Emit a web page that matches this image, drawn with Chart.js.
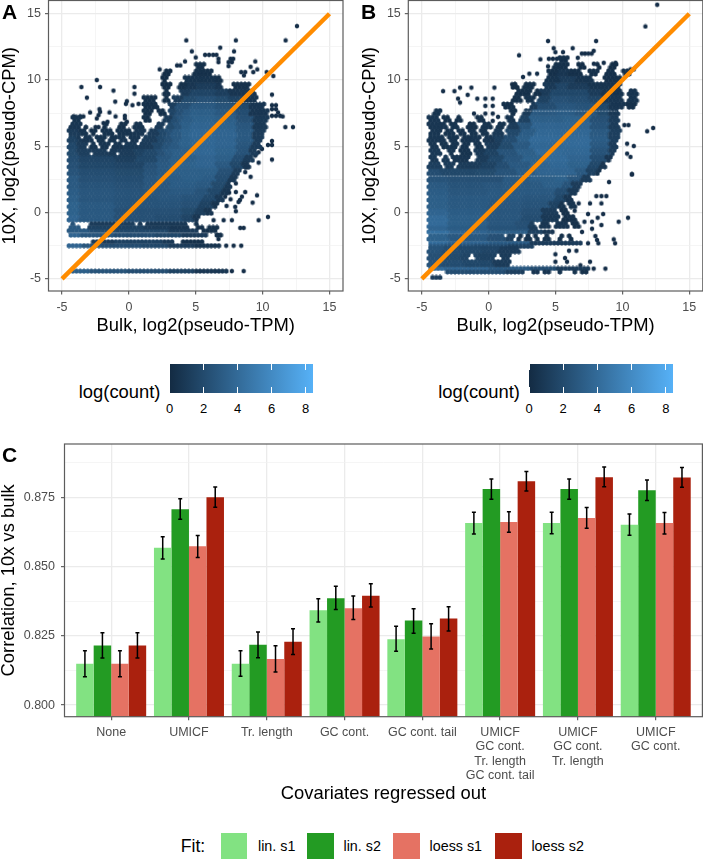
<!DOCTYPE html>
<html><head><meta charset="utf-8">
<script src="https://cdn.jsdelivr.net/npm/chart.js@4"></script>
<style>
html,body{margin:0;padding:0;background:#fff;width:703px;height:859px;overflow:hidden;font-family:"Liberation Sans",Arial,sans-serif}
canvas{position:absolute}
.t{position:absolute;white-space:nowrap;line-height:1;color:#000}
.b{position:absolute}
</style></head><body>
<canvas id="a" style="left:0;top:-6px"></canvas>
<canvas id="b" style="left:360px;top:-6px"></canvas>
<canvas id="c" style="left:0;top:440px"></canvas>
<div id="dom"></div>
<script>
// ---------- Panel C values ----------
const categories=[["None"],["UMICF"],["Tr. length"],["GC cont."],["GC cont. tail"],["UMICF","GC cont.","Tr. length","GC cont. tail"],["UMICF","GC cont.","Tr. length"],["UMICF","GC cont."]];
const fitNames=["lin. s1","lin. s2","loess s1","loess s2"];
const fitColors=["#82e282","#239b23","#e57263","#aa210e"];
const linS1=[.8149,.8568,.8149,.8342,.8238,.8657,.8657,.8651];
const linS2=[.8215,.8707,.8218,.8386,.8305,.8780,.8780,.8776];
const loessS1=[.8149,.8573,.8166,.8350,.8248,.8661,.8675,.8657];
const loessS2=[.8215,.8750,.8229,.8395,.8313,.8808,.8823,.8822];
const linS1Lo=[.8102,.8527,.8104,.8300,.8194,.8618,.8619,.8613];
const linS1Hi=[.8196,.8608,.8196,.8384,.8285,.8696,.8696,.8690];
const linS2Lo=[.8170,.8671,.8171,.8345,.8259,.8743,.8743,.8739];
const linS2Hi=[.8261,.8745,.8264,.8429,.8348,.8816,.8816,.8813];
const loessS1Lo=[.8102,.8533,.8119,.8309,.8202,.8624,.8638,.8618];
const loessS1Hi=[.8196,.8612,.8214,.8394,.8294,.8698,.8713,.8695];
const loessS2Lo=[.8170,.8714,.8183,.8354,.8267,.8773,.8788,.8786];
const loessS2Hi=[.8261,.8787,.8276,.8438,.8355,.8843,.8860,.8858];

// ---------- Hex panels: tick labels ----------
const hexTicks=[-5,0,5,10,15];
const diagonal=[-5,15];

// Hex rows: [y, x0, level, x1, level, ... , xEnd]; level -1 = empty stretch.
// "bands" cover two hex rows, "lines" one hex row.
const bandsA=[
[-0.55,-4.6,4.9,-3.7,4,-1,3.3,2,3,4,2.2,4.8,1,5.3],
[-0.05,-4.6,4.8,-3.7,4,-1,3.3,2,3.3,4,2.8,5,1.8,5.7,1,6.2],
[0.45,-4.6,4.7,-3.7,3.9,-1,3.4,2,3.5,4,3.3,5.3,2,6.2,.8,6.7],
[0.95,-4.6,4.5,-3.7,3.8,-1,3.4,2,3.7,4,3.6,5.5,2.6,6.5,1.2,7.1],
[1.45,-4.6,4.3,-3.7,3.7,-1,3.4,1,3.8,3,4,5,3.4,6,2.4,7,1,7.5],
[1.95,-4.6,4.1,-3.7,3.5,-1,3.3,1,3.8,3,4.2,5,3.9,6.3,2.8,7.2,1.2,7.7],
[2.45,-4.6,3.9,-3.7,3.3,-1,3.1,1,3.7,2,4.2,4,4.6,5.5,4.2,6.5,3,7.5,1.3,8.1],
[2.95,-4.6,3.6,-3.7,3,-1,2.8,1,3.5,2,4.1,3,4.6,5.5,4.6,6.7,3.3,7.8,1.6,8.4],
[3.45,-4.6,3.3,-3.7,2.6,-1,2.3,1,3.2,2,4,3,4.7,5,5,6.5,4,7.7,2.5,8.5,1,9],
[3.95,-4.6,3,-3.7,2.2,-1,1.8,.5,2.6,2,3.7,3,4.6,5,5.1,6.5,4.5,7.8,3,8.6,1.5,9.3],
[4.45,-4.6,2.7,-3.8,1.7,-2.9,-1,-2.7,1.4,-1.6,-1,-1.4,1.2,-.9,-1,-.7,1.4,.3,2,1,2.6,2,3.2,2.6,3.9,3.2,4.6,4.5,5.2,6.5,4.8,8,3.4,9,1.5,9.6],
[4.95,-4.6,2.4,-3.8,1.5,-3.2,-1,-2.9,1.1,-2.4,-1,-2.1,1.1,-1.5,-1,-1.2,1,-.5,-1,-.3,1.2,.6,-1,.8,1.5,1.8,2.6,2.4,3.4,3,4.1,3.7,4.8,4.5,5.3,6.5,5,8,3.7,9.2,1.4,9.9],
[5.45,-4.6,2,-3.9,1.2,-3.6,-1,-3.4,1,-2.7,-1,-2.4,.8,-1.8,-1,-1.5,.8,-.9,-1,-.7,1,-.2,-1,.1,1,.8,-1,1.1,1.6,2,2.4,2.6,3.2,3.2,4,3.8,4.7,4.6,5.2,6.5,5,8,3.9,9.3,1.4,10],
[5.95,-4.6,1.6,-3.7,.8,-3.2,-1,-2.9,.6,-2.4,-1,-2,.7,-1.2,-1,-.9,.8,.2,-1,.4,1,1.2,-1,1.5,1.6,2.2,2.4,2.7,3.2,3.2,4,3.8,4.7,4.6,5.2,6.5,5,8,3.9,9.3,1.5,10.1],
[6.45,-4.4,1,-3.6,-1,-3.3,.5,-3.1,-1,-1.9,.5,-1.6,-1,-.7,.6,-.2,-1,.4,.8,1,-1,2,1.5,2.6,-1,2.9,2.8,3.3,3.6,3.8,4.4,4.6,5,6.5,4.7,8,3.7,9.3,1.3,10.3],
[6.95,-4.2,.8,-3.5,-1,1,.6,1.6,-1,2.6,1.6,3.1,3,3.6,3.8,4,4.3,4.7,4.7,6.5,4.4,8,3.3,9.3,1.2,10.4],
[7.45,1,.4,1.8,-1,2.2,.5,2.7,-1,3,2.3,3.5,3.2,4,3.9,4.6,4.4,6.5,4,8,3,9,1,10.4],
[7.95,1,.5,2.2,-1,3,1.8,3.5,3.2,4.5,3.9,6.5,3.5,8,2.4,9,.9,10.2],
[8.45,1.1,.4,2.1,-1,2.6,.5,3,-1,3.3,1.5,4,2.7,5,3.2,6.5,2.8,7.5,2,8.5,.8,9.6],
[8.95,2.6,.4,3,-1,3.8,1.5,4.5,2.2,6.5,1.8,7.5,1,9.4],
[9.45,2.5,.3,3.2,-1,3.7,.5,4.3,1,5,1.4,6.5,1,7,-1,7.8,.5,9],
[9.95,2.5,.3,2.9,-1,4.1,.8,5.3,.8,6.5,.5,6.9],
[10.45,2.6,.3,3.1,-1,4.9,.6,6.2],
[10.95,5,.4,5.7]
];
const linesA=[
[-0.85,-4.4,3.5,-4.1,-1,-2.9,1.5,-1,1.8,.3,-1,.6,1.5,1,-1,1.4,1.2,4.4,-1,4.9,.8,5.2],
[-1.12,-4.5,4,-3.6,-1,-3,2,-1,2,1,1.5,3,1,4.6,-1,5,.6,5.6,-1,5.9,.4,6.6],
[-1.36,-4.5,4,-2.8,3,-1,2.6,1,2.4,3,1.6,5.3,-1,5.6,.6,6.7],
[-1.7,-4.6,5,-3.5,3.8,-1,3,2,2.4,4,1.5,5.9,-1,6.4,.5,6.9],
[-2.2,-2.9,1.6,-1,2,2.5,1.3,3.4,-1,4,.6,5.5],
[-2.5,-4.6,5,-3.5,3.8,-2,3,1,2.6,3,1.4,5,.8,6.9],
[-4.42,-4.4,4.4,-3,3.6,0,3,3,2,5,1,7.3]
];
const singlesA=[12.57,14.07,11.72,12.99,4.29,12.99,8,12.99,6.83,12.44,4.71,12.16,7.86,12.16,5.7,11.9,6,11.9,6.3,11.9,6.55,11.9,5,11.7,6.7,11.6,6.7,11.35,7.6,11.6,7.8,11.6,7.45,11.35,7.7,11.35,7.45,11.05,4.2,11.4,3.6,11.1,3.85,11.1,9.45,11.4,9.1,11,2.3,10.8,10.3,10.6,9.6,10.8,9.3,10.6,8.7,10.6,8.4,10.6,8.6,10.35,10.8,10.3,-2.4,10,-3.55,9.47,-2.15,9.47,.42,9.47,-3.14,8.67,-1.15,9.2,.42,8.97,-1.02,8.37,10.7,8.9,-.22,8.2,-.15,8.4,.27,8.1,-2.2,7.8,-2.15,7.6,.72,8.2,-1.45,7.55,-2.9,7.55,-1,7.25,-.3,7.3,-.3,7.1,-.15,6.85,-2.27,7.35,-2.4,7.1,-3.64,7.25,-3.4,7.25,-4.1,7.25,-1.6,6.85,-2.5,6.45,-2.27,6.45,-1.9,6.75,11.7,6.45,12.27,6.45,10.7,5.4,10.7,5.1,10.4,5.1,10.7,4,9.7,3.77,9.45,4.3,9.7,4.55,9.95,4.8,9.1,2.7,8.8,3.4,8.7,3.05,8,2.2,8,1.55,8.3,.95,9.58,1.3,9.25,.75,8.7,1.55,8.45,1.2,8.2,.8,7.95,.43,9.7,-.58,10.4,-.33,7.7,-.58,7.08,-.58,6.33,-.58,8.33,-1.16,8.58,-1.16,7.28,-2.5,7.83,-2.5,8.4,-2.5,7.7,-4.42,8.58,-4.42,6.7,-1.7,6.7,-2,10.7,8.1,11,8.1,10.7,7.8,11,7.8,11.15,7.55,10.7,7.3,11,7.3,11.3,7.3,11.5,7.25,8,.1,7.3,.5,7.6,1,7.2,1.2,7.5,1.5,7.8,2.5];

const bandsB=[
[-3.95,-4.55,3.4,-3.4,3,-1.9,2.6,.3,1.6,1.6],
[-3.45,-4.55,3.3,-3.3,2.7,-2,2.3,-1.4,-1,-1.1,2.3,-.8,2,.5,-1,.9,1.4,1.6],
[-2.95,-4.55,3.4,-3.4,3,-2.2,2.6,-.5,2.2,.8,1.6,2.3],
[-2,-4.55,4.7,-3,4,0,3.2,1.2,-1,1.4,2,1.9,-1,2.2,.8,2.5,-1,2.8,.8,3.1,-1,3.4,.8,3.7,-1,4.2,.8,4.5,-1,5.2,.6,5.6,-1,6,.6,6.3],
[-1.05,-4.55,5.5,-3,4.5,0,3.7,2,3.2,3,1.8,3.5,-1,3.8,1,4.6,-1,5,1,5.9,-1,6.2,.6,6.8],
[-0.55,-4.55,5.6,-3,4.6,0,3.8,2.5,3,4,1.2,5.2,-1,5.6,.6,6.5],
[-0.05,-4.55,4.9,-3,4.2,0,3.7,2.5,3.2,4,1.6,5.1,-1,5.4,.6,5.9],
[0.45,-4.55,4.6,-3,4,0,3.8,2.5,3.5,4.5,2,5.3,.8,5.7,-1,6,.7,6.5],
[0.95,-4.55,4.4,-3,3.9,0,3.9,2.5,3.8,5,2.4,5.7,1,6.2],
[1.45,-4.55,4.2,-3,3.8,0,3.9,2.5,4,5,2.9,6,1.2,6.6],
[1.95,-4.55,4,-3,3.6,-.5,3.7,1,4.1,4,4.5,5.5,3.4,6.3,1.4,7],
[2.45,-4.55,3.6,-3,3.2,-.5,3.3,1,3.9,3,4.5,5,4.8,6,3.8,7,1.5,7.6],
[2.95,-4.55,3,-3.5,2.6,-1,2.8,.5,3.4,2,4.3,3.5,5,5,5.1,6.5,4,7.3,2,8,.8,8.4],
[3.45,-4.5,1.8,-3.6,-1,-3.3,1.4,-2.6,-1,-2.3,1.4,-.6,2,.5,3,1.5,4,3,5,4.5,5.3,6,4.7,7.5,2.5,8.4,1,8.8],
[3.95,-4.4,1.3,-3.9,-1,-3.4,1.2,-3,-1,-2.7,1,-1.4,-1,-.9,1.6,0,2.6,1,3.7,2.5,4.8,4,5.4,6,5,7.7,3,8.7,1,9.2],
[4.45,-4.4,1.2,-3.6,-1,-3,1,-2.6,-1,-2.2,.8,-1.3,-1,-1,1.2,-.4,2,.6,3.4,2,4.6,3.5,5.5,5.5,5.2,7.7,3.5,9,1.4,9.5],
[4.95,-4.4,1,-3.9,-1,-3.5,.8,-3,-1,-2.8,.8,-2.3,-1,-2,.7,-1.5,-1,-1.1,.8,-.5,-1,-.2,1.4,.8,2.7,1.8,4,3,5.3,5.5,5.4,7.7,4,9,1.6,9.6],
[5.45,-4.5,1,-3.3,-1,-3,.7,-2.3,-1,-2,.7,-1.3,.9,-.6,-1,-.3,1,.3,1.8,1,3,2,4.5,3,5.5,5.5,5.4,7.7,4.2,9,1.8,9.8],
[5.95,-4.4,.9,-3.6,-1,-3.3,.7,-2.6,-1,-2.3,.7,-1.8,-1,-1.5,.8,-.9,-1,-.6,.8,0,-1,.3,1.2,1,-1,1.3,2.6,2.3,4.3,3.5,5.3,5.5,5.2,7.7,4,9,1.8,9.9],
[6.45,-4.5,1,-3.1,-1,-2.8,.7,-2.3,-1,-1.6,.6,-.9,-1,-.5,.7,.2,-1,.6,.8,1.2,-1,1.5,1.6,2.2,3.4,3.2,5,5.5,5,7.7,3.6,9,1.6,9.8],
[6.95,-4.5,1,-3.7,-1,-3.4,.6,-2.8,-1,-2.4,.5,-2,-1,-.9,.6,-.3,-1,1.3,.8,1.9,-1,2.3,2,3,4.6,5.5,4.7,7.7,3.2,9,1.5,9.7],
[7.45,-4.1,.7,-3.5,-1,1.6,.5,2.1,-1,2.6,1.5,3.2,3.9,5,4.3,6.5,3.8,8,2.8,9,1.2,9.8],
[7.95,1.1,.5,1.9,-1,3.1,1.6,3.6,3,5,3.8,6.5,3.4,8,2.4,9,1,10.1,-1,10.3,.6,11],
[8.45,1.7,.5,2.4,-1,2.8,.8,3.4,-1,3.7,2,4.5,3.3,6,3,7.5,2.2,8.5,1,10,-1,10.4,.8,11.1],
[8.95,2.1,.5,3.1,-1,3.4,.6,3.9,1.6,4.5,2.6,6,2.5,7.5,1.6,8.5,.8,10,-1,10.5,.7,11.2],
[9.45,1.7,.3,2.2,-1,2.6,.4,3.4,-1,4.2,1.2,5,2.2,6,1.6,7.5,.8,9.9],
[9.95,4.3,.8,5.2,1.4,6.5,.8,7.8,-1,8.6,.5,9.9],
[10.45,4.4,.4,5.1,.9,6,.5,7,-1,7.5,.4,8.2,-1,8.8,.4,9.5,-1,10,.4,10.6],
[10.95,4.8,.5,6,-1,6.6,.3,7.2,-1,8.1,.3,8.4,-1,9.1,.3,9.6],
[11.45,5.2,.4,5.9]
];
const linesB=[
[-4.9,-4.3,1.5,-3.5],
[-4.48,-3.1,3,1.3,1.8,2.7,-1,3.1,1,3.7,-1,4.1,1,4.7,-1,5.1,.8,5.5,-1,6.2,.8,6.7,-1,6.9,.6,7.4],
[-4.22,-4.6,5.5,-3.4,5,0,4,3,3,5,1.5,7.5],
[-2.55,-4.55,4,-3.4,3.4,-1,3,1.5,2,3.4],
[-2.3,-4.55,5.8,-3,5,0,4.2,3,1.5,6.9],
[-1.45,-4.55,6,-3,5,0,4.5,3,2,4,1,5],
[-1.2,-4.55,5,-3,4.3,0,3.6,3,1.6,3.6]
];
const singlesB=[12.6,15.68,11.72,14.04,4.44,12.94,8.03,12.94,2.27,11.86,3.87,11.56,4.86,12.4,4.99,12.1,5.56,12.1,6.28,12.4,6.96,12,7.2,12,7.45,12,7.7,12,7.85,12.2,6.66,11.68,4.5,11.6,4.8,11.6,5.1,11.6,5.4,11.6,5.7,11.6,4.44,11.03,3.62,10.48,3.04,10.48,2.57,10.23,7.86,11.23,8.6,11.3,9.48,11.3,10.6,10.8,10.85,10.8,-3.41,9.16,-2.56,9.16,-2.14,9.43,-1.29,9.43,-1.57,8.88,-2.29,8.6,-2.14,8.3,-.85,8.6,-.25,8.6,.3,8.6,.43,9.43,-.25,8.05,.3,8.05,-.25,7.47,.3,7.47,-1.1,7.47,.3,6.92,.7,7.22,1.75,9.68,2.14,9.43,11.85,6.13,12.3,6.38,10.72,2.89,10.35,5.2,10.85,5.02,10.35,4.45,10.6,4.2,10.7,2.88,9,2.3,9.72,-.69,10.42,-.39,8.43,-.94,7.73,-.69,7.73,-1.22,8.15,-.39,8.56,-.11,7.43,-.11,7.16,-.69,6.98,-1.46,7.58,.69,8.43,.69,6.73,.69,8.05,1.24,8.43,1.24,8.8,1.24,6.43,.14,7.98,-1.77,8.1,-2.07,8.2,-2.32,9.35,-2.02,9.45,-2.32,7.43,-2.32,6.01,-2.88,6.56,-2.88,4.99,-3.15,4.99,-3.71,5.71,-3.43,5.86,-3.71,7.58,-3.71,7.85,-4.23,8.73,-4.23,6.86,-3.98,10.15,6.6,10.45,6.6];

const darkCol=[0x13,0x2B,0x43], lightCol=[0x56,0xB1,0xF7], levelMax=8.4, levelGain=.72;
const DX=.28, DY=.2425;

function colorOf(l){const t=Math.min(1,l*levelGain/levelMax);return 'rgb('+darkCol.map((c,i)=>Math.round(c+(lightCol[i]-c)*t)).join(',')+')';}
function hexSprite(l,w,h){
  const c=document.createElement('canvas');c.width=6;c.height=6;
  const x=c.getContext('2d');x.fillStyle=colorOf(l);x.beginPath();
  [[0,-h],[w,-h/2],[w,h/2],[0,h],[-w,h/2],[-w,-h/2]].forEach((p,i)=>i?x.lineTo(3+p[0],3+p[1]):x.moveTo(3+p[0],3+p[1]));
  x.closePath();x.fill();return c;
}
function expandRow(out,row){
  const y=row[0], odd=Math.abs(Math.round(y/DY))%2;
  for(let i=1;i+2<row.length;i+=2){
    const x0=row[i],lvl=row[i+1],x1=row[i+2];
    if(lvl<0)continue;
    const key=Math.round(lvl*4)/4;
    let n=Math.ceil(x0/DX-odd/2-1e-9);
    for(;(n+odd/2)*DX<x1-1e-9;n++){(out[key]=out[key]||[]).push({x:(n+odd/2)*DX,y});}
  }
}
function hexDatasets(bands,lines,singles){
  const out={};
  bands.forEach(r=>{expandRow(out,r);const r2=r.slice();r2[0]=r[0]+DY;expandRow(out,r2);});
  lines.forEach(r=>expandRow(out,r));
  const one=[];for(let i=0;i<singles.length;i+=2)one.push({x:singles[i],y:singles[i+1]});
  const ds=Object.keys(out).map(Number).sort((a,b)=>a-b).map(k=>({label:'h'+k,data:out[k],pointStyle:hexSprite(k,2.35,2.75),pointRadius:3,showLine:false,order:5}));
  ds.push({label:'single',data:one,pointStyle:hexSprite(.3,2.1,2.45),pointRadius:3,showLine:false,order:5});
  return ds;
}
const borderPlugin={id:'panelBorder',afterDraw(ch){const a=ch.chartArea,c=ch.ctx;c.save();c.strokeStyle='#5c5c5c';c.lineWidth=1.2;c.strokeRect(a.left,a.top,a.right-a.left,a.bottom-a.top);c.restore();}};
const gridMajor='#ebebeb';
const titleFont={size:18.4,family:'"Liberation Sans"',lineHeight:1};
function noEdgePad(s){s.paddingTop=0;s.paddingBottom=0;s.paddingLeft=0;s.paddingRight=0;}
function isMajor5(v){return Math.abs(v/5-Math.round(v/5))<1e-6;}
function hexAxis(min,max,fit,prop,title,tp){
  return {type:'linear',min,max,afterFit(s){s[prop]=fit;noEdgePad(s);},
    ticks:{stepSize:2.5,includeBounds:false,autoSkip:false,maxRotation:0,padding:tp,color:'#4d4d4d',font:{size:12.5,family:'"Liberation Sans"'},callback:v=>hexTicks.includes(v)?String(v):''},
    grid:{color:c=>isMajor5(c.tick.value)?gridMajor:'#f1f1f1',lineWidth:c=>isMajor5(c.tick.value)?1.3:.7,tickLength:3.5,tickColor:c=>isMajor5(c.tick.value)?'#555':'rgba(0,0,0,0)',tickWidth:1.1},
    border:{display:false},
    title:{display:true,text:title,color:'#000',font:titleFont,padding:prop==='height'?{top:0,bottom:5}:{top:1,bottom:0}}};
}
function hexChart(id,bands,lines,singles,whites,width,areaLeft){
  const cv=document.getElementById(id);cv.width=width;cv.height=346;cv.style.width=width+'px';cv.style.height='346px';
  const ds=hexDatasets(bands,lines,singles);
  whites.forEach(w=>ds.push({label:'gap',data:[{x:w[1],y:w[0]},{x:w[2],y:w[0]}],showLine:true,pointRadius:0,borderColor:'rgba(255,255,255,.5)',borderWidth:.8,borderDash:[2,1],order:3}));
  ds.push({label:'x=y',data:diagonal.map(v=>({x:v,y:v})),showLine:true,pointRadius:0,borderColor:'#ff8c00',borderWidth:4.5,order:1});
  new Chart(cv,{type:'scatter',data:{datasets:ds},plugins:[borderPlugin],options:{animation:false,responsive:false,devicePixelRatio:1,
    layout:{padding:{left:0,right:width-areaLeft-294.5,top:6.5,bottom:0}},
    plugins:{legend:{display:false},tooltip:{enabled:false}},
    scales:{x:hexAxis(-6.01,16.01,49,'height','Bulk, log2(pseudo-TPM)',6),y:hexAxis(-5.92,16,areaLeft,'width','10X, log2(pseudo-CPM)',4)}}});
}
const gapsA=[[8.3,3.1,10]], gapsB=[[7.65,2.6,9.6],[2.75,-4.5,6.6]];
hexChart('a',bandsA,linesA,singlesA,gapsA,350,48.5);
hexChart('b',bandsB,linesB,singlesB,gapsB,352,48.3);

// Panel C
function major25(v){const q=v/.025;return Math.abs(q-Math.round(q))<1e-6;}
const lows=[linS1Lo,linS2Lo,loessS1Lo,loessS2Lo], highs=[linS1Hi,linS2Hi,loessS1Hi,loessS2Hi];
const errPlugin={id:'err',afterDatasetsDraw(ch){const c=ch.ctx,y=ch.scales.y;c.save();c.strokeStyle='#000';c.lineWidth=1.5;
  lows.forEach((lo,d)=>{ch.getDatasetMeta(d).data.forEach((el,i)=>{const yl=y.getPixelForValue(lo[i]),yh=y.getPixelForValue(highs[d][i]),x=el.x;
    c.beginPath();c.moveTo(x,yl);c.lineTo(x,yh);c.moveTo(x-2,yl);c.lineTo(x+2,yl);c.moveTo(x-2,yh);c.lineTo(x+2,yh);c.stroke();});});c.restore();}};
const cv=document.getElementById('c');cv.width=703;cv.height=370;cv.style.width='703px';cv.style.height='370px';
new Chart(cv,{type:'bar',data:{datasets:[linS1,linS2,loessS1,loessS2].map((s,d)=>({label:fitNames[d],data:s.map((v,i)=>({x:i+1,y:v})),backgroundColor:fitColors[d],borderWidth:0,categoryPercentage:.9,barPercentage:1}))},
  plugins:[errPlugin,borderPlugin],
  options:{animation:false,responsive:false,devicePixelRatio:1,parsing:{xAxisKey:'x',yAxisKey:'y'},layout:{padding:{top:4,right:.6}},
    plugins:{legend:{display:false},tooltip:{enabled:false}},
    scales:{
      x:{type:'linear',offset:false,min:.4,max:8.6,afterFit(s){s.height=93.3;noEdgePad(s);},
        ticks:{stepSize:1,includeBounds:false,autoSkip:false,maxRotation:0,padding:5,color:'#4d4d4d',font:{size:12.5,family:'"Liberation Sans"',lineHeight:1.16},callback:v=>categories[v-1]||''},
        grid:{offset:false,color:gridMajor,lineWidth:1.3,tickLength:3.5,tickColor:'#555',tickWidth:1.1},border:{display:false},
        title:{display:true,text:'Covariates regressed out',color:'#000',font:titleFont,padding:{top:0,bottom:6.8}}},
      y:{type:'linear',min:.7958,max:.89426,afterFit(s){s.width=64.5;noEdgePad(s);},
        ticks:{stepSize:.0125,includeBounds:false,autoSkip:false,padding:6,color:'#4d4d4d',font:{size:12.5,family:'"Liberation Sans"'},callback:v=>major25(v)?v.toFixed(3):''},
        grid:{color:c=>major25(c.tick.value)?gridMajor:'#f1f1f1',lineWidth:c=>major25(c.tick.value)?1.3:.7,tickLength:3.5,tickColor:c=>major25(c.tick.value)?'#555':'rgba(0,0,0,0)',tickWidth:1.1},border:{display:false},
        title:{display:true,text:'Correlation, 10x vs bulk',color:'#000',font:titleFont,padding:{top:0,bottom:0}}}}}});

// Text and legends
const dom=document.getElementById('dom');
function text(s,x,y,size,opt){opt=opt||{};const e=document.createElement('div');e.className='t';e.textContent=s;e.style.fontSize=size+'px';e.style.top=(y-size/2)+'px';
  if(opt.right!==undefined){e.style.right=(703-opt.right)+'px';}else if(opt.center){e.style.left=x+'px';e.style.transform='translateX(-50%)';}else e.style.left=x+'px';
  if(opt.bold)e.style.fontWeight='bold';dom.appendChild(e);}
text('A',2,11,21,{bold:true});text('B',361,11,21,{bold:true});text('C',2,454,21,{bold:true});
const legendTicks=[0,2,4,6,8];
function colorbar(x0,xEnd){
  const b=document.createElement('div');b.className='b';b.style.cssText+=`left:${x0}px;top:364px;width:${xEnd-x0}px;height:29px;background:linear-gradient(to right,#132B43,#56B1F7)`;dom.appendChild(b);
  legendTicks.forEach(v=>{const x=x0+v/levelMax*(xEnd-x0);
    [364,387.2].forEach(t=>{const m=document.createElement('div');m.className='b';m.style.cssText+=`left:${x-.3}px;top:${t}px;width:.7px;height:5.8px;background:#fff`;dom.appendChild(m);});
    text(String(v),x,408,13,{center:true});});
  text('log(count)',0,392,18.4,{right:x0-9});
}
colorbar(169.5,312.5);colorbar(529,672.6);
text('Fit:',180.7,846.5,17.7);
[[220.6,258],[307,343.5],[393,429.6],[495,531.4]].forEach((p,i)=>{
  const b=document.createElement('div');b.className='b';b.style.cssText+=`left:${p[0]}px;top:832.5px;width:26.5px;height:26.5px;background:${fitColors[i]}`;dom.appendChild(b);
  text(fitNames[i],p[1],846,14.3);
});
</script></body></html>
